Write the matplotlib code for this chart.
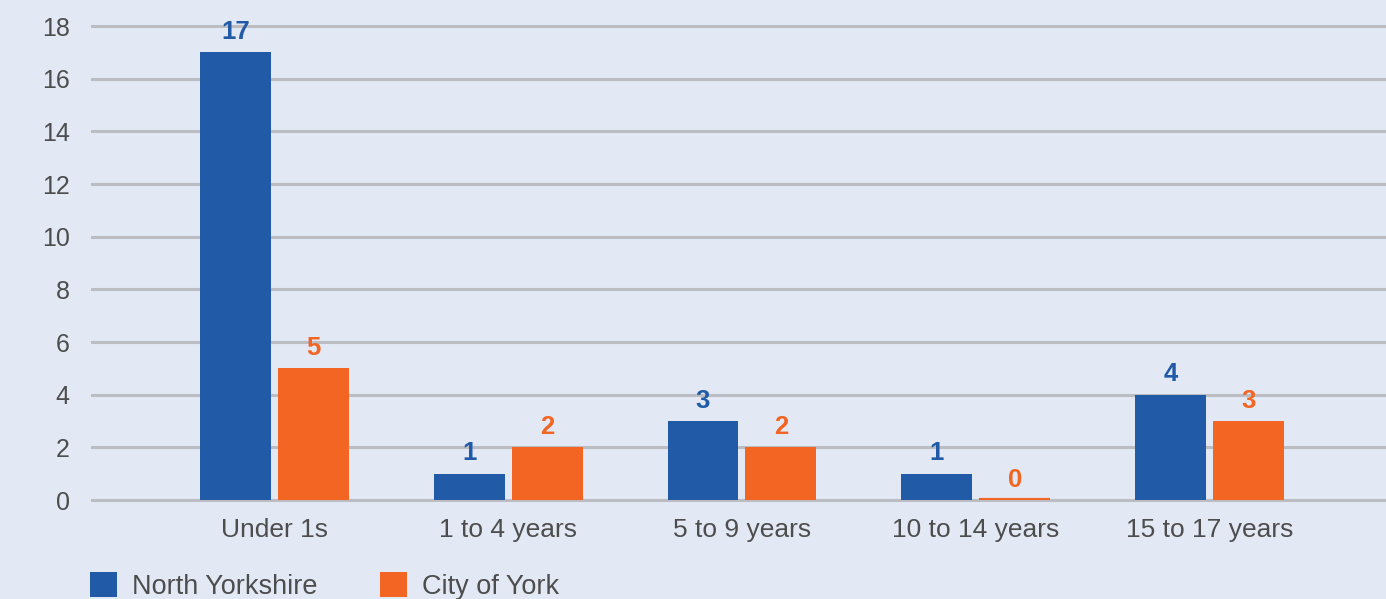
import matplotlib
matplotlib.use("Agg")
import matplotlib.pyplot as plt
import numpy as np

BLUE = "#215BA8"
ORANGE = "#F26522"
BG = "#E2E8F4"
GRID = "#BBBDC2"
TXT = "#4D4D4D"

categories = ["Under 1s", "1 to 4 years", "5 to 9 years", "10 to 14 years", "15 to 17 years"]
north_yorkshire = [17, 1, 3, 1, 4]
city_of_york = [5, 2, 2, 0, 3]
y_ticks = [0, 2, 4, 6, 8, 10, 12, 14, 16, 18]

plt.rcParams["font.family"] = ["Liberation Sans", "DejaVu Sans"]

fig = plt.figure(figsize=(13.86, 5.99), dpi=100, facecolor=BG)
ax = fig.add_axes([92 / 1386, 1 - 500 / 599, 1 - 92 / 1386, (500 - 26) / 599])
ax.set_facecolor(BG)

x = np.arange(len(categories))
w = 0.303
off = 0.1667
b1 = ax.bar(x - off, north_yorkshire, w, color=BLUE, label="North Yorkshire", zorder=3)
b2 = ax.bar(x + off, city_of_york, w, color=ORANGE, linewidth=0,
            label="City of York", zorder=3)
# zero-height bars still get a thin visible stroke
for r, v in zip(b2, city_of_york):
    if v == 0:
        r.set_edgecolor(ORANGE)
        r.set_linewidth(3)
        r.set_zorder(4)

for bars, vals, c in ((b1, north_yorkshire, BLUE), (b2, city_of_york, ORANGE)):
    for r, v in zip(bars, vals):
        ax.annotate(str(v), (r.get_x() + r.get_width() / 2, v), xytext=(0, 6),
                    textcoords="offset points", ha="center", va="bottom",
                    fontsize=18.5, fontweight="bold", color=c)

ax.set_xlim(-0.78, 4.755)
ax.set_ylim(0, 18)
ax.set_yticks(y_ticks)
ax.set_xticks(x)
ax.set_xticklabels(categories)
ax.tick_params(axis="both", length=0, labelsize=18, labelcolor=TXT)
ax.tick_params(axis="x", labelsize=19, pad=13)
ax.tick_params(axis="y", pad=16)
ax.yaxis.grid(True, color=GRID, linewidth=2.2, zorder=0)
ax.set_axisbelow(True)
for s in ax.spines.values():
    s.set_visible(False)
for gl in ax.get_ygridlines():
    gl.set_clip_on(False)

leg = fig.legend(handles=[b1, b2], loc="center left",
                 bbox_to_anchor=(90 / 1386, 1 - 586 / 599), ncol=2, frameon=False,
                 fontsize=19.5, handlelength=1.0, handleheight=1.0,
                 handletextpad=0.55, columnspacing=2.3, borderpad=0, borderaxespad=0)
for t in leg.get_texts():
    t.set_color(TXT)

fig.savefig("out.png", dpi=100, facecolor=BG)
